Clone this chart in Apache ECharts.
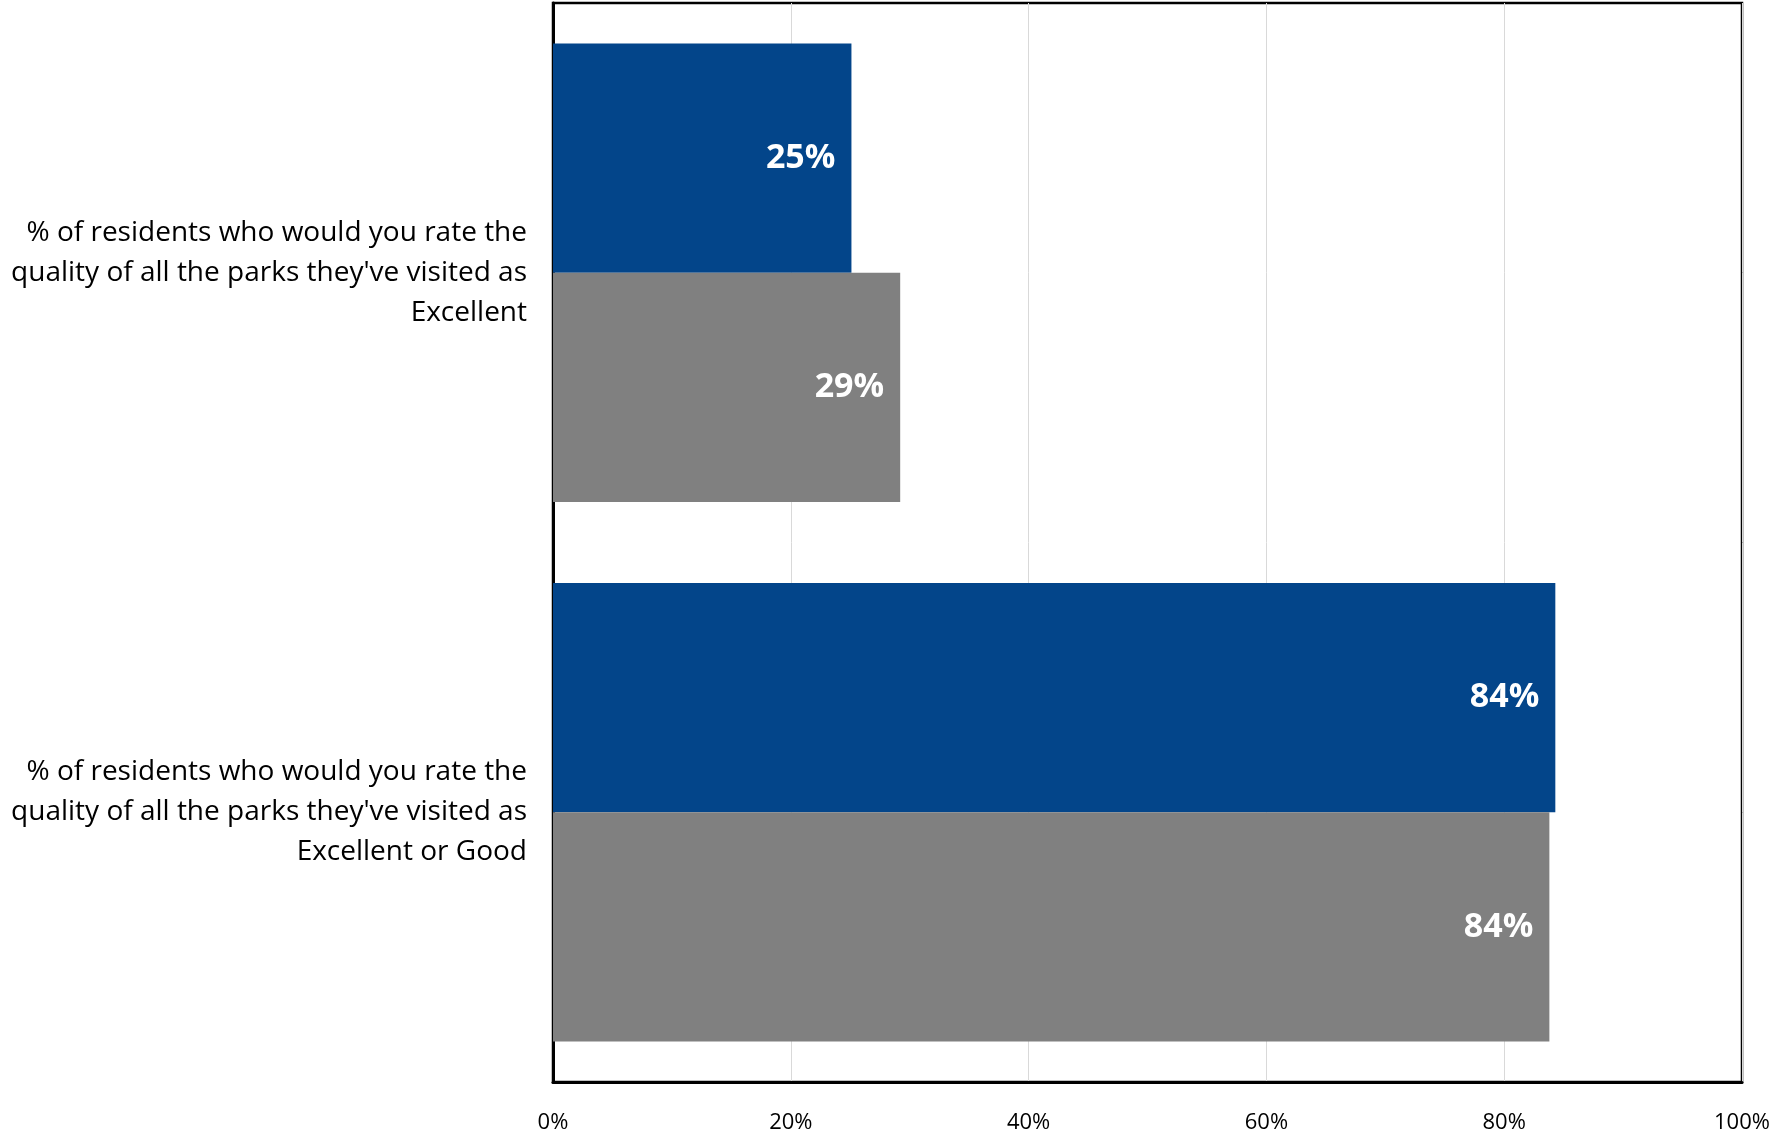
<!DOCTYPE html>
<html>
<head>
<meta charset="utf-8">
<script src="https://cdn.jsdelivr.net/npm/echarts@6/dist/echarts.min.js"></script>
<style>html,body{margin:0;padding:0;background:#fff}#c{width:1773px;height:1134px}</style>
</head>
<body>
<div id="c"></div>
<script>
var categories = [
  "% of residents who would you rate the\nquality of all the parks they've visited as\nExcellent",
  "% of residents who would you rate the\nquality of all the parks they've visited as\nExcellent or Good"
];
var seriesA = [25.1, 84.3];
var seriesB = [29.2, 83.8];
var xTicks = [0, 20, 40, 60, 80, 100];

var chart = echarts.init(document.getElementById('c'));
var labelStyle = {
  show: true,
  position: 'insideRight',
  distance: 16,
  color: '#ffffff',
  fontFamily: 'Open Sans',
  fontWeight: 'bold',
  fontSize: 34,
  formatter: function (p) { return Math.round(p.value) + '%'; }
};
chart.setOption({
  animation: false,
  grid: {
    left: 553, right: 31, top: 3, bottom: 51,
    show: true, borderColor: '#000', borderWidth: 2.5, backgroundColor: 'transparent'
  },
  xAxis: {
    type: 'value', min: 0, max: 100, interval: 20,
    axisLine: { show: true, lineStyle: { color: '#000', width: 3 } },
    axisTick: { show: false },
    splitLine: { show: true, lineStyle: { color: '#d9d9d9', width: 1 } },
    axisLabel: {
      color: '#000', fontFamily: 'Open Sans', fontSize: 22, margin: 30,
      formatter: function (v) { return xTicks.indexOf(v) >= 0 ? v + '%' : ''; }
    }
  },
  yAxis: {
    type: 'category', data: categories, inverse: true,
    axisLine: { show: true, lineStyle: { color: '#000', width: 3 } },
    axisTick: { show: false },
    axisLabel: {
      color: '#000', fontFamily: 'Open Sans', fontSize: 28, lineHeight: 40,
      align: 'right', margin: 26
    }
  },
  series: [
    { type: 'bar', data: seriesA, barCategoryGap: '15%', barGap: '0%',
      itemStyle: { color: '#03458a' }, label: labelStyle },
    { type: 'bar', data: seriesB, barCategoryGap: '15%', barGap: '0%',
      itemStyle: { color: '#808080' }, label: labelStyle }
  ]
});
</script>
</body>
</html>
